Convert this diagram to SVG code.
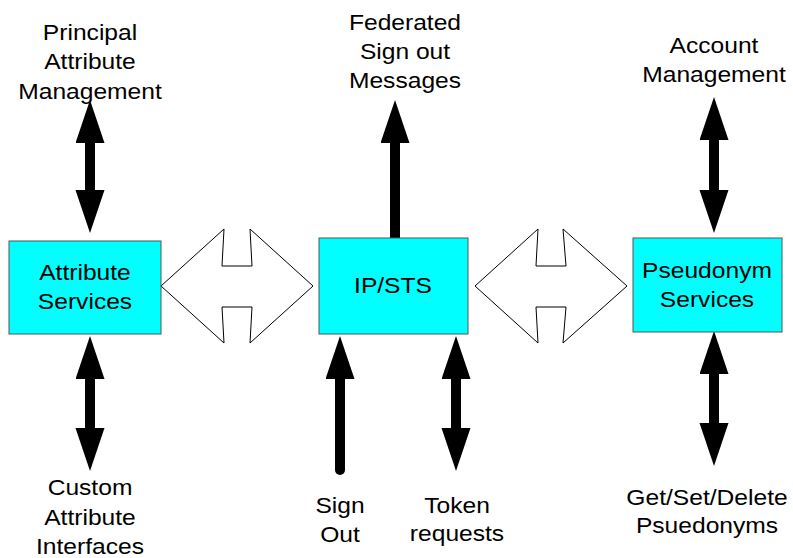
<svg xmlns="http://www.w3.org/2000/svg" width="793" height="558" viewBox="0 0 793 558">
<style>
.box{fill:#00FFFF;stroke:#555;stroke-width:1}
.t{font-family:"Liberation Sans",Arial,sans-serif;font-size:24px;fill:#000;text-anchor:middle}
.bi{stroke:#000;stroke-width:10;fill:none;marker-start:url(#ah);marker-end:url(#ah)}
.uni{stroke:#000;stroke-width:10;fill:none;stroke-linecap:round;marker-end:url(#ah)}
.hollow{fill:#fff;stroke:#000;stroke-width:1;stroke-linejoin:miter}
</style>
<defs>
<marker id="ah" markerUnits="userSpaceOnUse" markerWidth="44" markerHeight="30" refX="0" refY="14.5" orient="auto-start-reverse">
<path d="M0,0 L43,14.5 L0,29 z" fill="#000"/>
</marker>
</defs>
<rect width="793" height="558" fill="#fff"/>
<g id="connectors">
<path class="bi" d="M90,143 V190"/>
<path class="bi" d="M90,379 V428"/>
<path class="uni" d="M395,238 V143"/>
<path class="uni" d="M340,470 V379"/>
<path class="bi" d="M456,379 V428"/>
<path class="bi" d="M714,140 V190"/>
<path class="bi" d="M714,374 V423"/>
<polygon class="hollow" points="161,286 224,229 222,266 252,266 250,229 313,286 250,343 252,307 222,307 224,343"/>
<polygon class="hollow" points="475,286 538,229 536,266 566,266 563,229 627,286 563,343 566,307 536,307 538,343"/>
</g>
<g id="attribute-services">
<rect class="box" x="9" y="241" width="152" height="93"/>
<text class="t" transform="translate(85,280) scale(1.025,0.91)">Attribute</text>
<text class="t" transform="translate(85,309) scale(1.025,0.91)">Services</text>
</g>
<g id="ip-sts">
<rect class="box" x="319" y="238" width="149" height="96"/>
<text class="t" transform="translate(393,293) scale(1.025,0.91)">IP/STS</text>
</g>
<g id="pseudonym-services">
<rect class="box" x="633" y="238" width="149" height="94"/>
<text class="t" transform="translate(707,278) scale(1.025,0.91)">Pseudonym</text>
<text class="t" transform="translate(707,307) scale(1.025,0.91)">Services</text>
</g>
<g id="principal-attribute-management">
<text class="t" transform="translate(90,39.5) scale(1.025,0.91)">Principal</text>
<text class="t" transform="translate(90,69) scale(1.025,0.91)">Attribute</text>
<text class="t" transform="translate(90,98.5) scale(1.025,0.91)">Management</text>
</g>
<g id="federated-sign-out">
<text class="t" transform="translate(405,30) scale(1.025,0.91)">Federated</text>
<text class="t" transform="translate(405,59) scale(1.025,0.91)">Sign out</text>
<text class="t" transform="translate(405,88) scale(1.025,0.91)">Messages</text>
</g>
<g id="account-management">
<text class="t" transform="translate(714,53) scale(1.025,0.91)">Account</text>
<text class="t" transform="translate(714,82) scale(1.025,0.91)">Management</text>
</g>
<g id="custom-attribute-interfaces">
<text class="t" transform="translate(90,495) scale(1.025,0.91)">Custom</text>
<text class="t" transform="translate(90,525) scale(1.025,0.91)">Attribute</text>
<text class="t" transform="translate(90,554) scale(1.025,0.91)">Interfaces</text>
</g>
<g id="sign-out">
<text class="t" transform="translate(340,513) scale(1.025,0.91)">Sign</text>
<text class="t" transform="translate(340,542) scale(1.025,0.91)">Out</text>
</g>
<g id="token-requests">
<text class="t" transform="translate(457,513) scale(1.025,0.91)">Token</text>
<text class="t" transform="translate(457,541) scale(1.025,0.91)">requests</text>
</g>
<g id="get-set-delete">
<text class="t" transform="translate(707,505) scale(1.025,0.91)">Get/Set/Delete</text>
<text class="t" transform="translate(707,533) scale(1.025,0.91)">Psuedonyms</text>
</g>
</svg>
